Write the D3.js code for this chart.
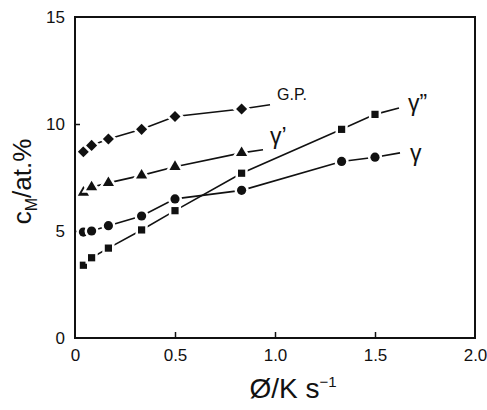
<!DOCTYPE html>
<html>
<head>
<meta charset="utf-8">
<script src="https://cdn.jsdelivr.net/npm/d3@7"></script>
<style>
  body { margin: 0; background: #fff; }
  svg text { font-family: "Liberation Sans Narrow", "Liberation Sans", Arial, sans-serif; fill: #111; }
</style>
</head>
<body>
<svg id="chart" width="487" height="410"></svg>
<script>
// heating rate values (K/s) and concentrations for each series
var rateGP = [0.042, 0.083, 0.167, 0.333, 0.5, 0.833];
var gpVals = [8.7, 9.0, 9.3, 9.75, 10.35, 10.7];

var rateG1 = [0.042, 0.083, 0.167, 0.333, 0.5, 0.833];
var g1Vals = [6.8, 7.05, 7.25, 7.6, 8.0, 8.65];

var rateG = [0.042, 0.083, 0.167, 0.333, 0.5, 0.833, 1.333, 1.5];
var gVals = [4.95, 5.0, 5.25, 5.7, 6.5, 6.9, 8.25, 8.45];

var rateG2 = [0.042, 0.083, 0.167, 0.333, 0.5, 0.833, 1.333, 1.5];
var g2Vals = [3.4, 3.75, 4.2, 5.05, 5.95, 7.7, 9.75, 10.45];

// end of the short line that leads to each label, and label anchor
var tailEnd = [[0.975, 10.9], [0.94, 8.8], [1.62, 10.75], [1.625, 8.65]];
var labelNames = ["G.P.", "\u03b3\u2019", "\u03b3\u201d", "\u03b3"];
var labelPos = [[1.01, 11.1], [0.975, 9.05], [1.665, 10.6], [1.675, 8.25]];

var xTicks = [0, 0.5, 1.0, 1.5, 2.0];
var yTicks = [0, 5, 10, 15];

(function(){
  var svg = d3.select("#chart");
  var mLeft = 75, mRight = 475, mTop = 17, mBottom = 338;

  var x = d3.scaleLinear().domain([0, 2]).range([mLeft, mRight]);
  var y = d3.scaleLinear().domain([0, 15]).range([mBottom, mTop]);

  var series = [
    {rate: rateGP, vals: gpVals, shape: d3.symbolDiamond2, size: 78},
    {rate: rateG1, vals: g1Vals, shape: d3.symbolTriangle, size: 54},
    {rate: rateG2, vals: g2Vals, shape: d3.symbolSquare, size: 52},
    {rate: rateG, vals: gVals, shape: d3.symbolCircle, size: 66}
  ];

  // inward ticks
  var xAxis = d3.axisBottom(x).tickValues(xTicks)
    .tickSize(-6).tickPadding(10)
    .tickFormat(function(d){ return d === 0 ? "0" : d3.format(".1f")(d); });
  var gx = svg.append("g")
    .attr("transform", "translate(0," + mBottom + ")")
    .call(xAxis);
  gx.attr("font-family", null).attr("font-size", null);
  gx.select(".domain").remove();
  gx.selectAll(".tick line").attr("stroke", "#111").attr("stroke-width", 1.5)
    .filter(function(d){ return d === 0 || d === 2; }).remove();
  gx.selectAll(".tick text").style("font-size", "17px").attr("dy", "0.75em");

  var yAxis = d3.axisLeft(y).tickValues(yTicks)
    .tickSize(-5).tickPadding(10);
  var gy = svg.append("g")
    .attr("transform", "translate(" + mLeft + ",0)")
    .call(yAxis);
  gy.attr("font-family", null).attr("font-size", null);
  gy.select(".domain").remove();
  gy.selectAll(".tick line").attr("stroke", "#111").attr("stroke-width", 1.5)
    .filter(function(d){ return d === 0 || d === 15; }).remove();
  gy.selectAll(".tick text").style("font-size", "17px");

  // lines
  var line = d3.line()
    .x(function(d){ return x(d[0]); })
    .y(function(d){ return y(d[1]); });

  series.forEach(function(s, i){
    var pts = s.rate.map(function(r, j){ return [r, s.vals[j]]; });
    pts.push(tailEnd[i]);
    svg.append("path")
      .attr("d", line(pts))
      .attr("fill", "none")
      .attr("stroke", "#111")
      .attr("stroke-width", 1.6);
  });

  // markers, with white halo to make small gaps in the line
  series.forEach(function(s){
    svg.append("g").selectAll("path")
      .data(s.rate.map(function(r, j){ return [r, s.vals[j]]; }))
      .enter().append("path")
      .attr("transform", function(d){ return "translate(" + x(d[0]) + "," + y(d[1]) + ")"; })
      .attr("d", d3.symbol().type(s.shape).size(s.size))
      .attr("fill", "#111")
      .attr("stroke", "#fff")
      .attr("stroke-width", 5)
      .style("paint-order", "stroke");
  });

  // frame on top
  svg.append("rect")
    .attr("x", mLeft).attr("y", mTop)
    .attr("width", mRight - mLeft).attr("height", mBottom - mTop)
    .attr("fill", "none").attr("stroke", "#111").attr("stroke-width", 2);

  // series labels
  labelNames.forEach(function(name, i){
    svg.append("text")
      .attr("x", x(labelPos[i][0]))
      .attr("y", y(labelPos[i][1]))
      .style("font-size", (i === 0 ? 16 : 23) + "px")
      .style("font-family", i === 0 ? null : "'Liberation Sans', Arial, sans-serif")
      .text(name);
  });

  // axis titles
  var xt = svg.append("text")
    .attr("x", 293).attr("y", 398)
    .attr("text-anchor", "middle")
    .style("font-size", "28px")
    .style("font-family", "'Liberation Sans', Arial, sans-serif");
  xt.append("tspan").text("\u00d8/K s");
  xt.append("tspan").attr("dy", -11).style("font-size", "15px").text("\u22121");

  var yt = svg.append("text")
    .attr("transform", "translate(31," + ((mTop + mBottom) / 2 + 4) + ") rotate(-90)")
    .attr("text-anchor", "middle")
    .style("font-size", "26px")
    .style("font-family", "'Liberation Sans', Arial, sans-serif");
  yt.append("tspan").text("c");
  yt.append("tspan").attr("dy", 6).style("font-size", "16px").text("M");
  yt.append("tspan").attr("dy", -6).text("/at.%");
})();
</script>
</body>
</html>
